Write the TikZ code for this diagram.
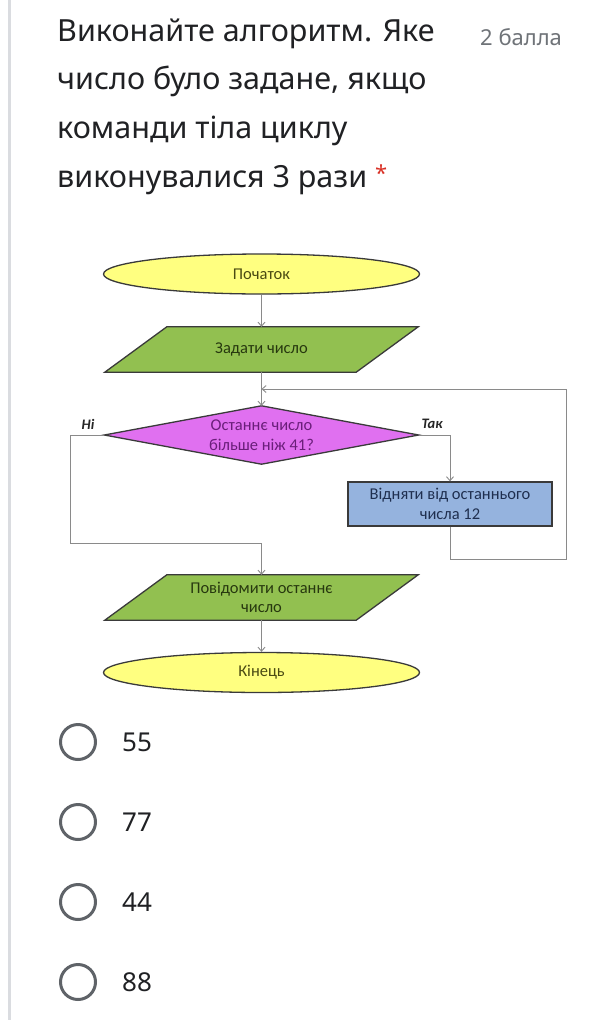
\documentclass[tikz,border=0pt]{standalone}
\usepackage{fontspec}
\setmainfont{Noto Sans}
\newfontfamily\carl{Carlito}
\usetikzlibrary{shapes.geometric,arrows.meta,calc,backgrounds}
\definecolor{txt}{HTML}{202124}
\definecolor{sub}{HTML}{6F7378}
\definecolor{star}{HTML}{D93025}
\definecolor{border}{HTML}{DADCE0}
\definecolor{radio}{HTML}{5F6368}
\definecolor{yelF}{HTML}{FFFF80}
\definecolor{grnF}{HTML}{92C050}
\definecolor{magF}{HTML}{E070F0}
\definecolor{bluF}{HTML}{95B3DE}
\definecolor{yelT}{HTML}{4A4A12}
\definecolor{grnT}{HTML}{27380F}
\definecolor{magT}{HTML}{6A1E7A}
\definecolor{bluT}{HTML}{1F2F4F}
\definecolor{lineC}{HTML}{8A8A8A}
\definecolor{edgeC}{HTML}{3A3A3A}
\begin{document}
\begin{tikzpicture}[x=1pt,y=-1pt,
  title/.style={anchor=base west,inner sep=0pt,text=txt,font=\fontsize{30.5}{34}\selectfont},
  opt/.style={anchor=base west,inner sep=0pt,text=txt,font=\fontsize{26}{30}\selectfont},
  radiobtn/.style={circle,draw=radio,line width=3pt,minimum size=35pt,inner sep=0pt},
  shp/.style={line width=1.3pt,draw=edgeC},
  ftext/.style={font=\carl\fontsize{16.5}{19.5}\selectfont,align=center,inner sep=0pt},
  term/.style={ellipse,shp,fill=yelF,text=yelT,ftext,minimum width=316pt,minimum height=40pt},
  ioframe/.style={ftext,text=grnT,minimum width=251pt,minimum height=45pt},
  conn/.style={draw=lineC,line width=0.9pt},
  arr/.style={conn,-{Straight Barb[length=4pt,width=7pt]}},
  lbl/.style={font=\carl\bfseries\itshape\fontsize{14.5}{16}\selectfont,text=black!85,inner sep=0pt}
]
\useasboundingbox (0,0) rectangle (600,1020);

% question
\node[title] (t1) at (57,41) {Виконайте алгоритм. Яке};
\node[title] (t2) at (57,89) {число було задане, якщо};
\node[title] (t3) at (57,138) {команди тіла циклу};
\node[title] (t4) at (57,187) {виконувалися 3 рази \textcolor{star}{\fontsize{22}{22}\selectfont\raisebox{6pt}{*}}};
\node[anchor=base west,inner sep=0pt,text=sub,font=\fontsize{22}{24}\selectfont] (pts) at (480,45) {2 балла};

% flowchart
\node[term] (start) at (261.5,274) {Початок};
\node[ioframe] (p1) at (261.5,349.5) {Задати число};
\node[ftext,text=magT,minimum width=314pt,minimum height=58pt] (dia) at (261.5,435) {Останнє число\\більше ніж 41?};
\node[ftext,shp,fill=bluF,text=bluT,minimum width=204pt,minimum height=44pt] (box) at (450,504) {Відняти від останнього\\числа 12};
\node[ioframe] (p2) at (261.5,597.5) {Повідомити останнє\\число};
\node[term] (end) at (261.5,672.5) {Кінець};

\begin{scope}[on background layer]
\fill[white] (0,0) rectangle (600,1020);
\draw[border,line width=3pt] (9,0) -- (9,1020);
\filldraw[shp,fill=grnF] ($(p1.north west)+(31,0)$) -- ($(p1.north east)+(31,0)$) -- ($(p1.south east)+(-31,0)$) -- ($(p1.south west)+(-31,0)$) -- cycle;
\filldraw[shp,fill=grnF] ($(p2.north west)+(31,0)$) -- ($(p2.north east)+(31,0)$) -- ($(p2.south east)+(-31,0)$) -- ($(p2.south west)+(-31,0)$) -- cycle;
\filldraw[shp,fill=magF] (dia.north) -- (dia.east) -- (dia.south) -- (dia.west) -- cycle;
\end{scope}

\node[lbl] (no) at (88,424) {Ні};
\node[lbl] (yes) at (432,424) {Так};

\coordinate (join) at (261.5,389);
\coordinate (lc1) at (70,435);
\coordinate (lc2) at (70,543);
\coordinate (lc3) at (261.5,543);
\coordinate (rc1) at (450,435);
\coordinate (bc1) at (450,559);
\coordinate (bc2) at (566,559);
\coordinate (bc3) at (566,389);

\draw[arr] (start.south) -- (p1.north);
\draw[arr] (p1.south) -- (dia.north);
\draw[arr] (box.south) -- (bc1) -- (bc2) -- (bc3) -- (join);
\draw[conn] (dia.west) -- (lc1) -- (lc2) -- (lc3);
\draw[arr] (lc3) -- (p2.north);
\draw[arr] (dia.east) -- (rc1) -- (box.north);
\draw[arr] (p2.south) -- (end.north);

% options
\foreach \i/\v in {0/55,1/77,2/44,3/88}{
  \node[radiobtn] (r\v) at (78,742+80*\i) {};
  \node[opt] (o\v) at (122,751+80*\i) {\v};
}
\end{tikzpicture}
\end{document}
